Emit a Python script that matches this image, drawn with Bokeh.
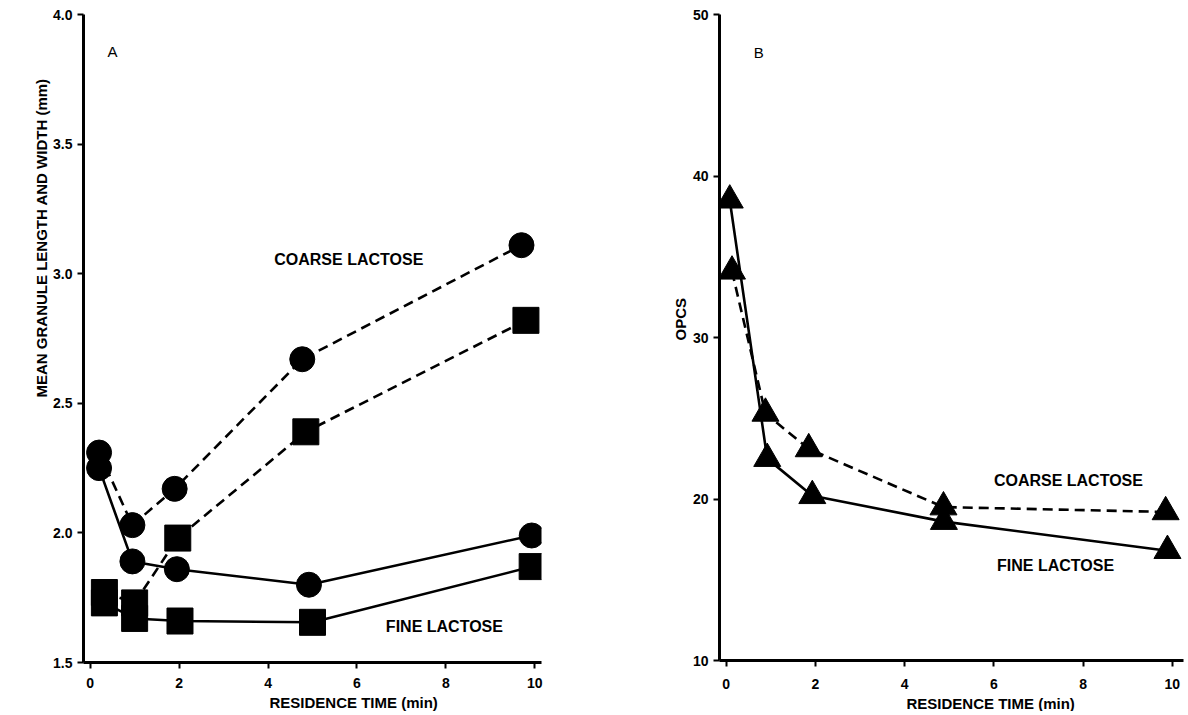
from bokeh.plotting import figure
from bokeh.models import Range1d, FixedTicker, Label, Title
from bokeh.layouts import row
from bokeh.embed import file_html
from bokeh.resources import INLINE

# ---------------- data: panel A (granule size) ----------------
a_coarse_circ_x = [0.2, 0.95, 1.9, 4.77, 9.7]
a_coarse_circ_y = [2.31, 2.03, 2.17, 2.67, 3.11]
a_fine_circ_x = [0.2, 0.95, 1.95, 4.92, 9.93]
a_fine_circ_y = [2.25, 1.89, 1.86, 1.80, 1.99]
a_coarse_sq_x = [0.32, 1.0, 1.97, 4.85, 9.8]
a_coarse_sq_y = [1.77, 1.73, 1.98, 2.39, 2.82]
a_fine_sq_x = [0.32, 1.0, 2.02, 5.0, 9.94]
a_fine_sq_y = [1.73, 1.67, 1.66, 1.655, 1.87]

# ---------------- data: panel B (OPCS) ----------------
b_fine_x = [0.08, 0.92, 1.93, 4.88, 9.89]
b_fine_y = [38.5, 22.5, 20.2, 18.6, 16.8]
b_coarse_x = [0.13, 0.88, 1.85, 4.87, 9.85]
b_coarse_y = [34.1, 25.3, 23.1, 19.5, 19.2]

# ---------------- ticks ----------------
x_ticks = [0, 2, 4, 6, 8, 10]
a_y_ticks = [1.5, 2.0, 2.5, 3.0, 3.5, 4.0]
a_y_tick_labels = ["1.5", "2.0", "2.5", "3.0", "3.5", "4.0"]
b_y_ticks = [10, 20, 30, 40, 50]
b_y_tick_labels = ["10", "20", "30", "40", "50"]

FONT = "Liberation Sans"
DASH = "10 6"
LW = 2.6


def style(p, yt, ylabels, x_standoff):
    p.outline_line_color = None
    p.xgrid.visible = False
    p.ygrid.visible = False
    for ax in (p.xaxis[0], p.yaxis[0]):
        ax.axis_line_width = 3
        ax.axis_line_color = "black"
        ax.major_tick_line_width = 2
        ax.major_tick_line_color = "black"
        ax.major_tick_out = 6
        ax.major_tick_in = 0
        ax.minor_tick_line_color = None
        ax.major_label_text_font = FONT
        ax.major_label_text_font_style = "bold"
        ax.major_label_text_font_size = "14px"
        ax.major_label_text_color = "black"
        ax.major_label_standoff = 5
    p.xaxis[0].major_label_standoff = x_standoff
    p.xaxis[0].ticker = FixedTicker(ticks=x_ticks)
    p.yaxis[0].ticker = FixedTicker(ticks=yt)
    p.yaxis[0].major_label_overrides = {t: l for t, l in zip(yt, ylabels)}


def title(text, align, offset):
    return Title(text=text, align=align, offset=offset, standoff=2,
                 text_font=FONT, text_font_style="bold",
                 text_font_size="15px", text_color="black")


def label(p, x, y, text, bold=True, size="16px", align="left"):
    p.add_layout(Label(x=x, y=y, text=text, text_align=align, text_baseline="middle",
                       text_font=FONT, text_font_style="bold" if bold else "normal",
                       text_font_size=size, text_color="black"))


# ---------------- panel A ----------------
pA = figure(x_range=Range1d(-0.15, 10.15), y_range=Range1d(1.5, 4.0),
            frame_width=458, frame_height=648,
            min_border_left=83, min_border_right=98,
            min_border_top=14, min_border_bottom=50,
            output_backend="svg", toolbar_location=None, title=None)
style(pA, a_y_ticks, a_y_tick_labels, 9)

pA.line(a_coarse_circ_x, a_coarse_circ_y, line_color="black", line_width=LW, line_dash=DASH)
pA.line(a_coarse_sq_x, a_coarse_sq_y, line_color="black", line_width=LW, line_dash=DASH)
pA.line(a_fine_circ_x, a_fine_circ_y, line_color="black", line_width=LW)
pA.line(a_fine_sq_x, a_fine_sq_y, line_color="black", line_width=LW)
pA.scatter(a_coarse_circ_x, a_coarse_circ_y, marker="circle", size=25, color="black")
pA.scatter(a_fine_circ_x, a_fine_circ_y, marker="circle", size=25, color="black")
pA.scatter(a_coarse_sq_x, a_coarse_sq_y, marker="square", size=26, color="black")
pA.scatter(a_fine_sq_x, a_fine_sq_y, marker="square", size=26, color="black")

label(pA, 0.5, 3.857, "A", bold=False, size="15px", align="center")
label(pA, 4.14, 3.055, "COARSE LACTOSE")
label(pA, 6.65, 1.64, "FINE LACTOSE")
pA.add_layout(title("MEAN GRANULE LENGTH AND WIDTH (mm)", "left", 265), "left")
pA.add_layout(title("RESIDENCE TIME (min)", "left", 186), "below")

# ---------------- panel B ----------------
pB = figure(x_range=Range1d(-0.15, 10.25), y_range=Range1d(10, 50),
            frame_width=464, frame_height=646,
            min_border_left=80, min_border_right=3,
            min_border_top=13, min_border_bottom=52,
            output_backend="svg", toolbar_location=None, title=None)
style(pB, b_y_ticks, b_y_tick_labels, 12)

pB.line(b_coarse_x, b_coarse_y, line_color="black", line_width=LW, line_dash=DASH)
pB.line(b_fine_x, b_fine_y, line_color="black", line_width=LW)
pB.scatter(b_coarse_x, b_coarse_y, marker="triangle", size=27, color="black")
pB.scatter(b_fine_x, b_fine_y, marker="triangle", size=27, color="black")

label(pB, 0.73, 47.66, "B", bold=False, size="15px", align="center")
label(pB, 6.0, 21.13, "COARSE LACTOSE")
label(pB, 6.07, 15.86, "FINE LACTOSE")
pB.add_layout(title("OPCS", "left", 320), "left")
pB.add_layout(title("RESIDENCE TIME (min)", "left", 187), "below")

layout = row(pA, pB)
open("out.html", "w").write(file_html(layout, INLINE))
